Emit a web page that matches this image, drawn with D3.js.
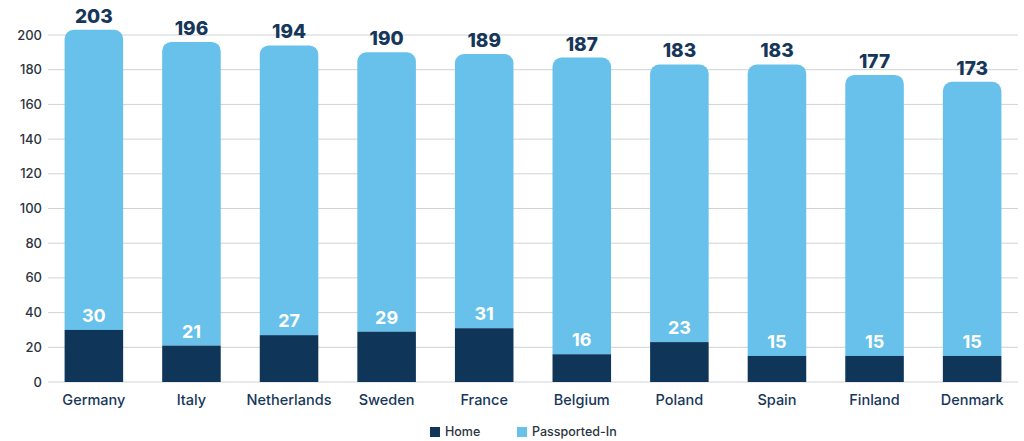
<!DOCTYPE html>
<html><head><meta charset="utf-8">
<script src="https://cdn.jsdelivr.net/npm/d3@7"></script>
<style>body{margin:0;background:#fff}svg{display:block}text{font-family:Inter,"Open Sans",sans-serif}</style>
</head><body>
<svg id="c" width="1024" height="441"></svg>
<script>
const categories = ["Germany","Italy","Netherlands","Sweden","France","Belgium","Poland","Spain","Finland","Denmark"];
const home = [30,21,27,29,31,16,23,15,15,15];
const totals = [203,196,194,190,189,187,183,183,177,173];
const yTicks = [0,20,40,60,80,100,120,140,160,180,200];
const seriesNames = ["Home","Passported-In"];
const passported = totals.map((t,i)=>t-home[i]);

const colors = {home:"#0f3659", pass:"#67c1ea", text:"#17375a", axis:"#2c3440", grid:"#cfd3d6"};
const svg = d3.select("#c");
const x = d3.scaleBand().domain(categories).range([48,1018]).paddingInner(0.4).paddingOuter(0.17);
const y = d3.scaleLinear().domain([0,200]).range([382,35]);

// grid
svg.append("g").selectAll("line").data(yTicks).join("line")
  .attr("x1",48).attr("x2",1018).attr("y1",d=>y(d)).attr("y2",d=>y(d))
  .attr("stroke",colors.grid).attr("stroke-width",1);
svg.append("g").selectAll("text").data(yTicks).join("text")
  .attr("x",42).attr("y",d=>y(d)).attr("dy","0.35em").attr("text-anchor","end")
  .attr("font-size",13).attr("font-weight",500).attr("fill",colors.axis).text(d=>d);

const r = 9;
const g = svg.append("g");
categories.forEach((c,i)=>{
  const x0 = x(c), w = x.bandwidth();
  const yTop = y(totals[i]), yH = y(home[i]), yB = y(0);
  // passported segment (value passported[i]) stacked on home, rounded top
  const p = d3.path();
  p.moveTo(x0, yH);
  p.lineTo(x0, yTop + r);
  p.arcTo(x0, yTop, x0 + r, yTop, r);
  p.lineTo(x0 + w - r, yTop);
  p.arcTo(x0 + w, yTop, x0 + w, yTop + r, r);
  p.lineTo(x0 + w, yH);
  p.closePath();
  g.append("path").attr("d", p.toString()).attr("fill", colors.pass);
  g.append("rect").attr("x",x0).attr("y",yH).attr("width",w).attr("height",yB-yH).attr("fill",colors.home);
  g.append("text").attr("x",x0+w/2).attr("y",yTop-7).attr("text-anchor","middle")
    .attr("font-size",19).attr("font-weight",800).attr("fill",colors.text).text(totals[i]);
  g.append("text").attr("x",x0+w/2).attr("y",yH-8).attr("text-anchor","middle")
    .attr("font-size",18).attr("font-weight",700).attr("fill","#fff").text(home[i]);
  g.append("text").attr("x",x0+w/2).attr("y",405).attr("text-anchor","middle")
    .attr("font-size",14.5).attr("font-weight",500).attr("fill",colors.text).text(c);
});

// legend
const leg = [{n:seriesNames[0],c:colors.home,x:430},{n:seriesNames[1],c:colors.pass,x:517}];
const lg = svg.append("g");
leg.forEach(l=>{
  lg.append("rect").attr("x",l.x).attr("y",427).attr("width",10).attr("height",10).attr("fill",l.c);
  lg.append("text").attr("x",l.x+15).attr("y",432).attr("dy","0.35em").attr("font-size",12.5)
    .attr("font-weight",500).attr("fill",colors.axis).text(l.n);
});
</script>
</body></html>
